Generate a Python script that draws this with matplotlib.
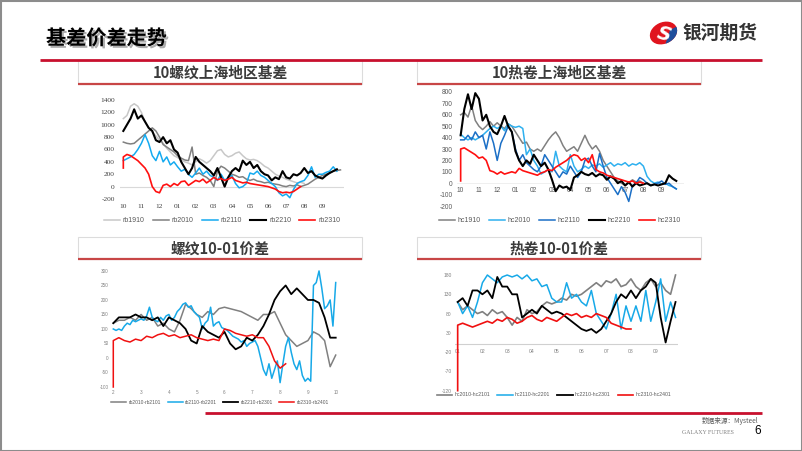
import numpy as np
import matplotlib
matplotlib.use('Agg')
import matplotlib.pyplot as plt
import matplotlib.patheffects as pe
from matplotlib.patches import Rectangle, Ellipse, Polygon

plt.rcParams['font.family'] = ['Liberation Sans', 'Noto Sans CJK SC']
plt.rcParams['axes.unicode_minus'] = False

W, H = 802, 451
CJK = ['Noto Sans CJK SC', 'DejaVu Sans']

# ---------------- data ----------------
# 10螺纹上海地区基差, x = months since Oct, one value every 0.2 month
season_labels = ['10', '11', '12', '01', '02', '03', '04', '05', '06', '07', '08', '09']
rb1910 = [1100, 1150, 1300, 1340, 1300, 1200, 1050, 950, 880, 820, 750, 700, 620, 560, 500,
          470, 430, 400, 380, 350, 400, 450, 420, 380, 420, 500, 580, 600, 520, 480,
          500, 540, 560, 500, 450, 430, 440, 420, 380, 330, 300, 250, 200, 170, 150,
          120, 100, 80, 60, 70, 50]
rb2010 = [720, 700, 690, 700, 750, 800, 850, 900, 950, 900, 800, 680, 640, 600, 560,
          500, 460, 430, 420, 640, 200, 220, 180, 150, 100, 0, 250, 330, 300, 250,
          200, 180, 150, 160, 120, 100, 120, 90, 80, 60, 70, 50, 40, 30, 10,
          0, 20, 10, 30, 0, 20, 40, 80, 120, 150, 180, 200, 220, 250, 260, 270]
rb2110 = [420, 450, 480, 520, 600, 700, 840, 700, 500, 420, 570, 400, 480, 350, 400,
          320, 250, 280, 200, 150, 220, 300, 200, 250, 180, 150, 100, 200, 100, 150,
          180, 50, -20, 0, 50, 220, 200, 250, 180, 150, 100, 50, 0, -100, -150,
          -120, -180, -50, 50, 80, 100, 180, 320, 150, 200, 200, 230, 250, 320, 250]
rb2210 = [900, 1000, 1100, 1250, 1100, 1150, 1050, 950, 900, 750, 720, 800, 700, 750, 600,
          550, 400, 300, 200, 300, 480, 400, 350, 300, 250, 180, 300, 150, 0, 150,
          250, 300, 250, 420, 350, 400, 300, 350, 250, 200, 180, 100, 150, 120, 250,
          150, 130, 200, 180, 220, 300, 220, 250, 180, 150, 130, 180, 220, 250, 280]
rb2310 = [300, 480, 520, 500, 460, 420, 360, 300, 200, 0, -80, -100, 20, 40, 0,
          50, 20, 80, 90, 20, 60, 100, 80, 120, 60, 100, 150, 110, 130, 100,
          120, 150, 100, 80, 60, 70, 50, 40, 30, 20, 10, 0, -20, -40, -80,
          -100, -90, -100, -80, -40, 0]

# 10热卷上海地区基差
hc1910 = [600, 620, 580, 680, 550, 500, 470, 500, 540, 500, 530, 500, 480, 520, 500,
          450, 400, 350, 360, 300, 280, 300, 280, 330, 380, 420, 450, 400, 330, 280,
          300, 320, 280, 350, 420, 350, 300, 330, 280, 200, 150, 100, 50, 20, 0,
          -20, 0, 30, 10, 20, 0]
hc2010 = [430, 400, 380, 400, 380, 400, 420, 450, 480, 500, 480, 500, 460, 520, 500,
          490, 500, 480, 250, 300, 200, 150, 80, 100, 120, 100, 280, 150, 120, 100,
          250, 150, 100, 120, 150, 130, 160, 150, 170, 140, 160, 180, 150, 170, 160,
          180, 150, 170, 160, 180, 150, 60, 20, 0, 10, -10, 0, -20, -30, -50]
hc2110 = [380, 380, 420, 380, 450, 400, 420, 300, 450, 350, 200, 350, 420, 500, 450,
          300, 200, 250, 180, 150, 120, 100, 150, 250, 200, 150, 100, 50, 100, 80,
          150, 100, 50, 100, 200, 220, 150, 100, 260, 150, 50, 0, -50, -100, -30,
          -80, -160, -20, 0, 50, 30, 0, -20, -10, 0, 20, -10, 0, -30, -50]
hc2210 = [420, 650, 780, 650, 790, 740, 550, 600, 500, 450, 430, 500, 590, 500, 450,
          280, 200, 150, 200, 170, 250, 200, 150, 180, 120, 30, -70, -20, -40, -30,
          -60, 50, 70, 100, 80, 70, 90, 60, 80, 70, 30, 60, 40, 0, 20,
          -20, 10, -30, 0, -20, -10, 0, -20, -10, -20, -10, 0, 70, 40, 20]
hc2310 = [20, 300, 310, 290, 270, 250, 220, 230, 200, 110, 100, 80, 100, 80, 90,
          100, 90, 130, 110, 100, 90, 80, 70, 90, 100, 120, 110, 140, 160, 180,
          200, 230, 250, 240, 200, 220, 180, 250, 120, 100, 90, 70, 60, 50, 40,
          30, 20, 10, 20, 0, 10, 0]

# 螺纹10-01价差, x = calendar month
rb_spread_labels = ['2', '3', '4', '5', '6', '7', '8', '9', '10']
rb2010_2101 = [120, 130, 130, 140, 130, 150, 130, 140, 110, 120, 100, 90, 130, 185, 170,
               150, 140, 160, 150, 170, 175, 170, 165, 160, 150, 140, 130, 150, 150, 160,
               120, 80, 60, 40, 50, 60, 90, 80, 60, -30, 10]
rb2110_2201 = [100, 95, 100, 95, 110, 120, 115, 130, 125, 130,
               135, 130, 145, 175, 140, 130, 125, 140, 130, 145,
               150, 130, 140, 160, 170, 185, 190, 175, 180, 160,
               150, 140, 100, 120, 130, 175, 110, 120, 125, 105,
               100, 95, 85, 75, 70, 65, 55, 60, 40, 50,
               55, 60, 40, 0, -40, -60, -20, -70, -40, -10,
               -85, -20, 40, 70, 20, -20, -40, -10, -60, -80,
               -70, -80, 250, 260, 300, 240, 170, 180, 200, 110,
               260]
rb2210_2301 = [120, 140, 140, 140, 150, 140, 140, 130, 140, 110, 140, 130, 120, 100, 60,
               50, 110, 90, 80, 70, 90, 50, 30, 40, 70, 60, 80, 110, 150, 200,
               230, 250, 220, 240, 220, 200, 200, 190, 140, 70, 70]
rb2310_2401 = [-100, 60, 70, 60, 55, 65, 60, 75, 70, 80, 85, 75, 80, 70, 75, 80, 70,
               65, 60, 65, 60, 100, 95, 85, 80, 75, 80, 70, 70, 40, -10, -35, -20]

# 热卷10-01价差
hc_spread_labels = ['01', '02', '03', '04', '05', '06', '07', '08', '09']
hc2010_2101 = [110, 90, 100, 90, 80, 85, 75, 90, 80, 85, 70, 50, 70, 60, 90,
               80, 85, 100, 110, 105, 110, 120, 115, 130, 125, 130, 140, 150, 160, 150,
               165, 160, 170, 150, 155, 170, 150, 140, 160, 170, 150, 160, 140, 130, 180]
hc2110_2201 = [110, 80, 100, 70, 110, 160, 180, 170, 160, 175, 180, 175, 180, 170, 180,
               165, 170, 150, 155, 120, 110, 110, 160, 120, 130, 110, 100, 140, 80, 60,
               40, 80, 130, 40, 100, 60, 100, 60, 140, 60, 110, 170, 60, 110, 70]
hc2210_2301 = [110, 120, 100, 140, 140, 130, 140, 120, 175, 150, 150, 130, 130, 70, 80,
               90, 80, 100, 90, 80, 85, 80, 70, 60, 50, 40, 35, 40, 30, 40,
               60, 80, 110, 130, 120, 140, 120, 140, 150, 170, 160, 70, 5, 60, 110]
hc2310_2401 = [-120, 50, 55, 50, 45, 50, 55, 60, 55, 65, 60, 70, 65, 55, 60, 70, 75, 65,
               60, 70, 65, 60, 70, 80, 75, 80, 70, 75, 70, 80, 75, 70, 55, 50, 45, 40, 40]


def xs(start, n, step=0.2, jump=False):
    # first two points share the same date when the series opens with a jump
    idx = np.arange(n)
    if jump:
        idx = np.maximum(idx - 1, 0)
    return start + step * idx


fig = plt.figure(figsize=(W / 100, H / 100), dpi=100)
bg = fig.add_axes([0, 0, 1, 1], zorder=0)
bg.set_xlim(0, W)
bg.set_ylim(H, 0)
bg.axis('off')

# frame, header and rules
bg.add_patch(Rectangle((0.5, 0.5), W - 1, H - 1, fill=False, ec='#8c8c8c', lw=1.5))
bg.text(46, 38, '基差价差走势', family=CJK, fontsize=14.5, weight='bold', color='black',
        va='center', ha='left',
        path_effects=[pe.withSimplePatchShadow(offset=(1.5, -1.5), shadow_rgbFace='#8a8a8a', alpha=0.7)])
bg.plot([40, 762], [60, 60], color='#c8102e', lw=2, solid_capstyle='butt')
bg.plot([205, 762], [413, 413], color='#c8102e', lw=2, solid_capstyle='butt')

# logo
bg.add_patch(Ellipse((663.5, 33), 27, 20, angle=-25, color='#e0141e'))
clip = Polygon([[663.5, 50], [690, 40], [690, 20], [670, 30]], closed=True, transform=bg.transData)
blue = Ellipse((663.5, 33), 27, 20, angle=-25, color='#1f4e9c')
bg.add_patch(blue)
blue.set_clip_path(clip)
bg.text(663.5, 34, 'S', fontsize=14, weight='bold', style='italic', color='white',
        ha='center', va='center', family='DejaVu Sans', rotation=-15)
bg.text(682, 33, '银河期货', family=CJK, fontsize=13.5, weight='bold', color='#333333',
        ha='left', va='center')

# footer
bg.text(758, 421, '数据来源：Mysteel', family=CJK, fontsize=4.8, color='#595959',
        ha='right', va='center')
bg.text(682, 432, 'GALAXY FUTURES', family='Liberation Serif', fontsize=4.2, color='#7f7f7f',
        ha='left', va='center')
bg.text(754, 431, '6', fontsize=8.5, color='black', ha='left', va='center')

# panel title boxes
panels = [(78, 60, 362, 84, '10螺纹上海地区基差'), (417, 60, 701, 84, '10热卷上海地区基差'),
          (78, 237, 362, 259, '螺纹10-01价差'), (417, 237, 701, 259, '热卷10-01价差')]
for l, t, r, b, title in panels:
    bg.add_patch(Rectangle((l, t), r - l, b - t, fill=False, ec='#dcdcdc', lw=0.8))
    bg.plot([l, r], [b, b], color='#c84646', lw=1.6, solid_capstyle='butt')
    bg.text((l + r) / 2, (t + b) / 2 + 0.5, title, family=CJK, fontsize=10.6, weight='bold',
            color='#3b3b3b', ha='center', va='center')


def px_axes(l, t, r, b):
    ax = fig.add_axes([l / W, 1 - b / H, (r - l) / W, (b - t) / H], zorder=1)
    ax.set_facecolor('none')
    for s in ax.spines.values():
        s.set_visible(False)
    ax.tick_params(length=0)
    return ax


def style_ticks(ax, font, fs, color, xpad, ypad):
    for lab in ax.get_xticklabels() + ax.get_yticklabels():
        lab.set_fontfamily(font)
        lab.set_fontsize(fs)
        lab.set_color(color)
    ax.tick_params(axis='x', pad=xpad)
    ax.tick_params(axis='y', pad=ypad)


def legend(ax, cx, cy, fs, hl, cs):
    ax.legend(loc='center', bbox_to_anchor=(cx / W, 1 - cy / H), bbox_transform=fig.transFigure,
              ncol=5, frameon=False, fontsize=fs, handlelength=hl, columnspacing=cs,
              handletextpad=0.4, borderpad=0, labelcolor='#595959')


# ---- chart 1 ----
ax1 = px_axes(119.7, 98.8, 344.1, 200.2)
ax1.set_xlim(-0.2, 12.2)
ax1.set_ylim(-220, 1420)
ax1.axhline(0, color='#d9d9d9', lw=0.8, zorder=1)
ax1.plot(xs(0, len(rb1910)), rb1910, color='#c8c8c8', lw=1.1, label='rb1910', zorder=3)
ax1.plot(xs(0, len(rb2010)), rb2010, color='#808080', lw=1.1, label='rb2010', zorder=3)
ax1.plot(xs(0, len(rb2110)), rb2110, color='#14aaf0', lw=1.1, label='rb2110', zorder=3)
ax1.plot(xs(0, len(rb2210)), rb2210, color='black', lw=1.5, label='rb2210', zorder=3)
ax1.plot(xs(0, len(rb2310), jump=True), rb2310, color='#ff1010', lw=1.2, label='rb2310', zorder=3)
ax1.set_yticks(np.arange(-200, 1401, 200))
ax1.set_xticks(range(12))
ax1.set_xticklabels(season_labels)
style_ticks(ax1, 'Liberation Serif', 5.3, '#404040', 2.5, 3.5)
legend(ax1, 222, 221, 5, 2.3, 1.2)

# ---- chart 2 ----
ax2 = px_axes(457.0, 89.7, 683.6, 208.3)
ax2.set_xlim(-0.2, 12.2)
ax2.set_ylim(-220, 820)
ax2.spines['bottom'].set_position(('data', 0))
ax2.axhline(0, color='#ececec', lw=0.6, zorder=1)
ax2.plot(xs(0, len(hc1910)), hc1910, color='#808080', lw=1.1, label='hc1910', zorder=3)
ax2.plot(xs(0, len(hc2010)), hc2010, color='#2eb0ef', lw=1.1, label='hc2010', zorder=3)
ax2.plot(xs(0, len(hc2110)), hc2110, color='#1b6fc6', lw=1.1, label='hc2110', zorder=3)
ax2.plot(xs(0, len(hc2210)), hc2210, color='black', lw=1.5, label='hc2210', zorder=3)
ax2.plot(xs(0, len(hc2310), jump=True), hc2310, color='#ff1010', lw=1.2, label='hc2310', zorder=3)
ax2.set_yticks(np.arange(-200, 801, 100))
ax2.set_xticks(range(12))
ax2.set_xticklabels(season_labels)
style_ticks(ax2, 'Liberation Sans', 4.8, '#595959', 3, 3)
legend(ax2, 560, 221, 5, 2.3, 1.2)

# ---- chart 3 ----
ax3 = px_axes(111.9, 269.5, 337.1, 388.45)
ax3.set_xlim(1.95, 10.05)
ax3.set_ylim(-105, 305)
ax3.plot(xs(2, len(rb2010_2101)), rb2010_2101, color='#808080', lw=1.1, label='rb2010-rb2101', zorder=3)
ax3.plot(xs(2, len(rb2110_2201), 0.1), rb2110_2201, color='#17a9e8', lw=1.1, label='rb2110-rb2201', zorder=3)
ax3.plot(xs(2, len(rb2210_2301)), rb2210_2301, color='black', lw=1.3, label='rb2210-rb2301', zorder=3)
ax3.plot(xs(2, len(rb2310_2401), jump=True), rb2310_2401, color='#f01010', lw=1.1, label='rb2310-rb2401', zorder=3)
ax3.set_yticks(np.arange(-100, 301, 50))
ax3.set_xticks(range(2, 11))
ax3.set_xticklabels(rb_spread_labels)
style_ticks(ax3, 'Liberation Sans', 3.3, '#808080', 1, 2.5)
legend(ax3, 220, 402.7, 3.5, 3.1, 1.4)

# ---- chart 4 ----
ax4 = px_axes(455.2, 273.1, 678.0, 392.6)
ax4.set_xlim(0.9, 9.9)
ax4.set_ylim(-125, 185)
ax4.spines['bottom'].set_position(('data', 0))
ax4.axhline(0, color='#d0d0d0', lw=0.8, zorder=1)
ax4.plot(xs(1, len(hc2010_2101)), hc2010_2101, color='#808080', lw=1.2, label='hc2010-hc2101', zorder=3)
ax4.plot(xs(1, len(hc2110_2201)), hc2110_2201, color='#17a9e8', lw=1.1, label='hc2110-hc2201', zorder=3)
ax4.plot(xs(1, len(hc2210_2301)), hc2210_2301, color='black', lw=1.3, label='hc2210-hc2301', zorder=3)
ax4.plot(xs(1, len(hc2310_2401), jump=True), hc2310_2401, color='#f01010', lw=1.2, label='hc2310-hc2401', zorder=3)
ax4.set_yticks([-120, -70, -20, 30, 80, 130, 180])
ax4.set_xticks(range(1, 10))
ax4.set_xticklabels(hc_spread_labels)
style_ticks(ax4, 'Liberation Sans', 3.6, '#808080', 3, 2.5)
legend(ax4, 554, 395, 3.7, 3.0, 1.4)

fig.savefig('out.png', dpi=100)
